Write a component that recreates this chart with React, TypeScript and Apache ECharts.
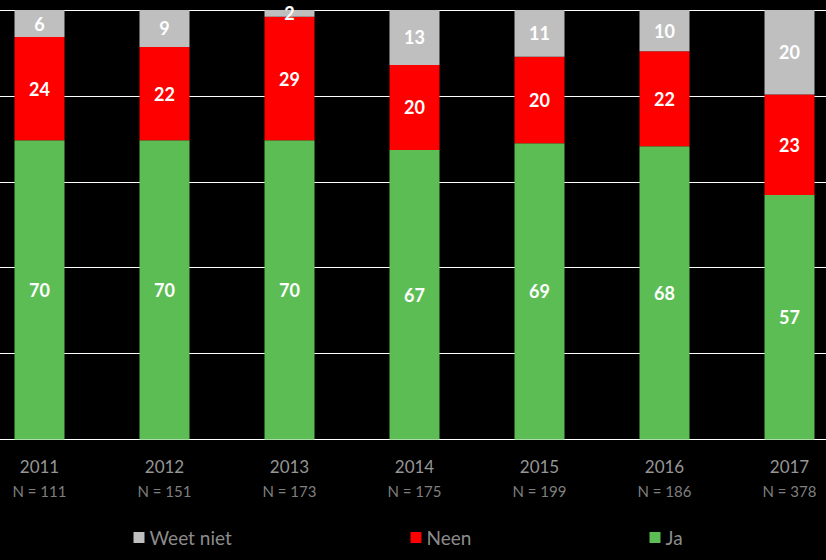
import React, { useEffect, useRef } from "react";
import * as echarts from "echarts";

const years = ["2011", "2012", "2013", "2014", "2015", "2016", "2017"];
const respondents = [111, 151, 173, 175, 199, 186, 378];
const ja = [69.7, 69.7, 69.7, 67.4, 69.0, 68.3, 56.9];
const neen = [24.0, 21.7, 28.7, 19.8, 20.1, 22.1, 23.4];
const weetNiet = [6.3, 8.6, 1.6, 12.8, 10.9, 9.6, 19.7];

const FONT = "Lato";
const OFFSET = 23.5;

export default function App() {
  const ref = useRef<HTMLDivElement>(null);
  useEffect(() => {
    if (!ref.current) return;
    const chart = echarts.init(ref.current, null, { renderer: "svg" });
    const label = {
      show: true,
      position: "inside",
      color: "#ffffff",
      fontFamily: FONT,
      fontWeight: "bold",
      fontSize: 18,
      formatter: (p: any) => String(Math.round(p.value)),
    };
    const mk = (name: string, data: number[], color: string) => ({
      name,
      type: "bar",
      stack: "total",
      data,
      barWidth: 50,
      itemStyle: { color },
      label,
    });
    const legendBase = {
      top: 528,
      itemWidth: 11,
      itemHeight: 11,
      itemGap: 5,
      icon: "rect",
      textStyle: { color: "#8c8c8c", fontFamily: FONT, fontSize: 19, padding: [0, 0, 0, 0] },
      padding: 0,
    };
    chart.setOption({
      animation: false,
      backgroundColor: "#000000",
      grid: { left: 0, right: 0, top: 10, bottom: 120.5, containLabel: false },
      legend: [
        { ...legendBase, left: 133 + OFFSET, data: ["Weet niet"] },
        { ...legendBase, left: 410 + OFFSET, data: ["Neen"] },
        { ...legendBase, left: 649 + OFFSET, data: ["Ja"] },
      ],
      xAxis: {
        type: "category",
        data: years,
        axisLine: { show: false },
        axisTick: { show: false },
        axisLabel: {
          margin: 15,
          formatter: (v: string, i: number) => `{y|${v}}\n{n|N = ${respondents[i]}}`,
          rich: {
            y: { color: "#969696", fontFamily: FONT, fontSize: 17, lineHeight: 24 },
            n: { color: "#7f7f7f", fontFamily: FONT, fontSize: 15, lineHeight: 24 },
          },
        },
      },
      yAxis: {
        type: "value",
        min: 0,
        max: 100,
        interval: 20,
        axisLabel: { show: false },
        axisLine: { show: false },
        axisTick: { show: false },
        splitLine: { show: true, lineStyle: { color: "#ffffff", width: 1 } },
      },
      series: [
        mk("Ja", ja, "#5dbd55"),
        mk("Neen", neen, "#ff0000"),
        mk("Weet niet", weetNiet, "#bfbfbf"),
      ],
    });
    return () => chart.dispose();
  }, []);
  return (
    <div style={{ position: "fixed", left: 0, top: 0, width: 826, height: 560, overflow: "hidden", background: "#000" }}>
      <div
        ref={ref}
        style={{ position: "absolute", left: -OFFSET, top: 0, width: 826 + OFFSET + 25.5, height: 560 }}
      />
    </div>
  );
}
